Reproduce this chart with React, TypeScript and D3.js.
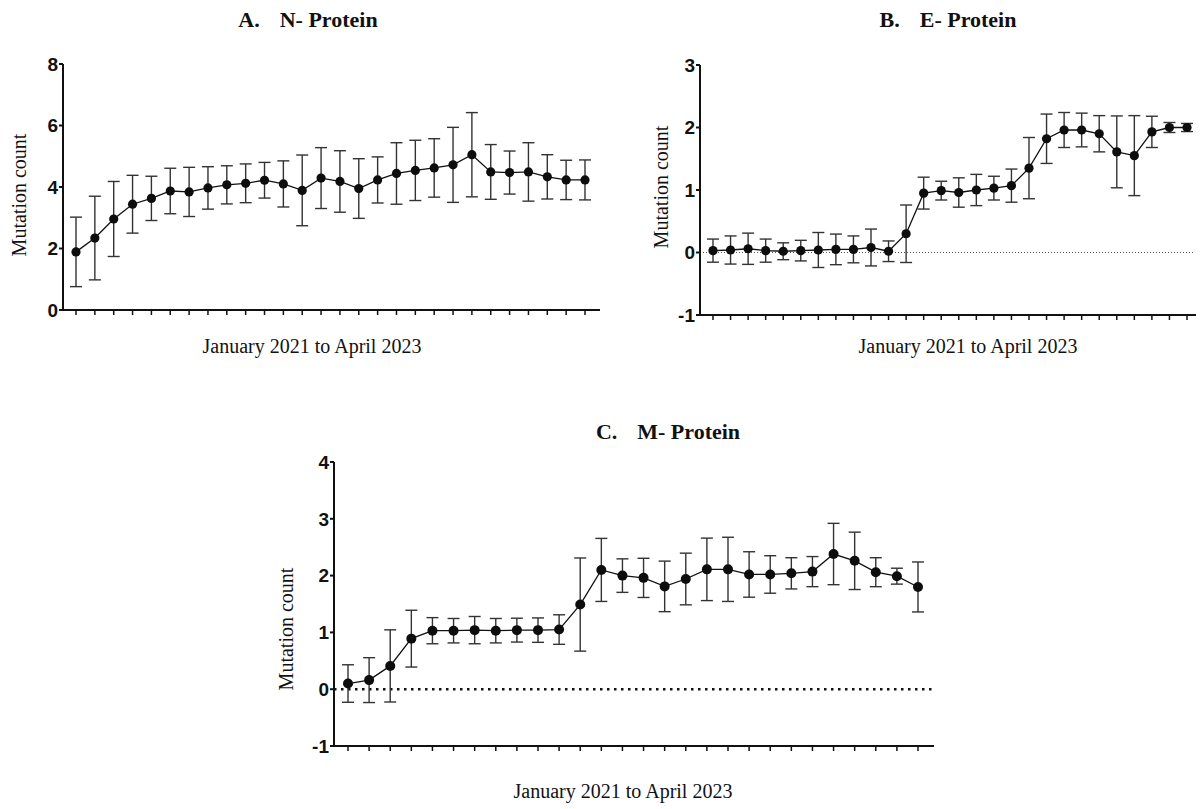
import React from 'react';
import * as d3 from 'd3';

// Jan 2021 .. Apr 2023, one point per month
const months = [
  'Jan 2021', 'Feb 2021', 'Mar 2021', 'Apr 2021', 'May 2021', 'Jun 2021', 'Jul 2021',
  'Aug 2021', 'Sep 2021', 'Oct 2021', 'Nov 2021', 'Dec 2021', 'Jan 2022', 'Feb 2022',
  'Mar 2022', 'Apr 2022', 'May 2022', 'Jun 2022', 'Jul 2022', 'Aug 2022', 'Sep 2022',
  'Oct 2022', 'Nov 2022', 'Dec 2022', 'Jan 2023', 'Feb 2023', 'Mar 2023', 'Apr 2023'
];

const nMean = [1.89, 2.34, 2.96, 3.44, 3.63, 3.87, 3.84, 3.97, 4.07, 4.12, 4.22, 4.10, 3.89, 4.29,
  4.18, 3.95, 4.23, 4.44, 4.54, 4.62, 4.72, 5.05, 4.49, 4.47, 4.49, 4.33, 4.23, 4.23];
const nSd = [1.13, 1.36, 1.22, 0.94, 0.72, 0.74, 0.80, 0.69, 0.62, 0.63, 0.58, 0.75, 1.15, 0.99,
  1.00, 0.97, 0.75, 1.00, 0.98, 0.95, 1.22, 1.37, 0.89, 0.70, 0.95, 0.72, 0.64, 0.65];

const eMean = [0.03, 0.04, 0.06, 0.03, 0.02, 0.03, 0.04, 0.05, 0.05, 0.08, 0.02, 0.30, 0.95, 0.99,
  0.96, 1.00, 1.03, 1.07, 1.35, 1.82, 1.96, 1.96, 1.90, 1.61, 1.55, 1.93, 2.00, 2.00];
const eSd = [0.185, 0.225, 0.25, 0.185, 0.135, 0.165, 0.28, 0.245, 0.215, 0.295, 0.165, 0.46, 0.255, 0.15,
  0.235, 0.25, 0.19, 0.265, 0.49, 0.395, 0.28, 0.27, 0.29, 0.575, 0.64, 0.25, 0.08, 0.065];

const mMean = [0.10, 0.16, 0.41, 0.89, 1.03, 1.03, 1.04, 1.03, 1.04, 1.04, 1.05, 1.49, 2.10, 2.00,
  1.96, 1.81, 1.94, 2.11, 2.11, 2.02, 2.02, 2.04, 2.07, 2.38, 2.26, 2.06, 1.99, 1.80];
const mSd = [0.33, 0.395, 0.635, 0.50, 0.23, 0.215, 0.24, 0.215, 0.21, 0.215, 0.26, 0.82, 0.555, 0.295,
  0.345, 0.445, 0.455, 0.55, 0.565, 0.40, 0.33, 0.275, 0.265, 0.54, 0.505, 0.255, 0.14, 0.44];

const nTicks = [0, 2, 4, 6, 8];
const eTicks = [-1, 0, 1, 2, 3];
const mTicks = [-1, 0, 1, 2, 3, 4];

const SERIF = '"Liberation Serif", "Times New Roman", serif';
const SANS = '"Liberation Sans", Arial, sans-serif';

interface PanelProps {
  letter: string;
  name: string;
  mean: number[];
  sd: number[];
  ticks: number[];
  axisX: number;
  axisEnd: number;
  xFirst: number;
  xLast: number;
  yTop: number;
  yBottom: number;
  titleX: number;
  titleY: number;
  xLabelX: number;
  xLabelY: number;
  yLabelX: number;
  yLabelY: number;
  zeroLine?: 'thin' | 'bold';
  r: number;
}

const Panel: React.FC<PanelProps> = (p) => {
  const x = d3.scalePoint<string>().domain(months).range([p.xFirst, p.xLast]);
  const y = d3.scaleLinear()
    .domain([p.ticks[0], p.ticks[p.ticks.length - 1]])
    .range([p.yBottom, p.yTop]);

  const pts = months.map((m, i) => ({ m, v: p.mean[i], sd: p.sd[i] }));
  const line = d3.line<typeof pts[0]>()
    .x(d => x(d.m) || 0)
    .y(d => y(d.v));

  const capW = 6;

  return (
    <g>
      {/* title */}
      <text x={p.titleX} y={p.titleY} fontFamily={SERIF} fontWeight="bold" fontSize={22}
        textAnchor="middle" fill="#111">
        <tspan>{p.letter}</tspan>
        <tspan dx={20}>{p.name}</tspan>
      </text>

      {/* zero reference line */}
      {p.zeroLine && (
        <line x1={p.axisX} x2={p.axisEnd - 2} y1={y(0)} y2={y(0)}
          stroke={p.zeroLine === 'bold' ? '#111' : '#555'}
          strokeWidth={p.zeroLine === 'bold' ? 2.5 : 1}
          strokeDasharray={p.zeroLine === 'bold' ? '2.5 4.5' : '1 2'} />
      )}

      {/* y axis */}
      <line x1={p.axisX} x2={p.axisX} y1={p.yTop} y2={p.yBottom + 1} stroke="#111" strokeWidth={2} />
      {p.ticks.map(t => (
        <g key={t}>
          <line x1={p.axisX - 4} x2={p.axisX} y1={y(t)} y2={y(t)} stroke="#111" strokeWidth={2} />
          <text x={p.axisX - 5} y={y(t)} dy="0.36em" textAnchor="end" fontFamily={SANS}
            fontWeight="bold" fontSize={19} fill="#111">{t}</text>
        </g>
      ))}

      {/* x axis */}
      <line x1={p.axisX - 1} x2={p.axisEnd} y1={p.yBottom} y2={p.yBottom} stroke="#111" strokeWidth={2} />
      {months.map(m => (
        <line key={m} x1={x(m)} x2={x(m)} y1={p.yBottom} y2={p.yBottom + 5} stroke="#111" strokeWidth={1.5} />
      ))}

      {/* axis labels */}
      <text x={p.xLabelX} y={p.xLabelY} textAnchor="middle" fontFamily={SERIF} fontSize={20} fill="#111">
        January 2021 to April 2023
      </text>
      <text transform={`translate(${p.yLabelX},${p.yLabelY}) rotate(-90)`} textAnchor="middle"
        dy="0.35em" fontFamily={SERIF} fontSize={20} fill="#111">
        Mutation count
      </text>

      {/* error bars */}
      {pts.map(d => {
        const cx = x(d.m) || 0;
        return (
          <g key={d.m} stroke="#333" strokeWidth={1.4}>
            <line x1={cx} x2={cx} y1={y(d.v + d.sd)} y2={y(d.v - d.sd)} />
            <line x1={cx - capW} x2={cx + capW} y1={y(d.v + d.sd)} y2={y(d.v + d.sd)} />
            <line x1={cx - capW} x2={cx + capW} y1={y(d.v - d.sd)} y2={y(d.v - d.sd)} />
          </g>
        );
      })}

      {/* mean line and points */}
      <path d={line(pts) || ''} fill="none" stroke="#111" strokeWidth={1.3} />
      {pts.map(d => (
        <circle key={d.m} cx={x(d.m)} cy={y(d.v)} r={p.r} fill="#0d0d0d" />
      ))}
    </g>
  );
};

export default function App() {
  return (
    <svg width={1203} height={809} style={{ position: 'absolute', left: 0, top: 0, background: '#fff' }}>
      <rect width={1203} height={809} fill="#fff" />
      <Panel letter="A." name="N- Protein" mean={nMean} sd={nSd} ticks={nTicks}
        axisX={63} axisEnd={600} xFirst={76} xLast={585} yTop={64} yBottom={310}
        titleX={308} titleY={27} xLabelX={312} xLabelY={353} yLabelX={19} yLabelY={195} r={4.6} />
      <Panel letter="B." name="E- Protein" mean={eMean} sd={eSd} ticks={eTicks}
        axisX={700} axisEnd={1196} xFirst={713} xLast={1187} yTop={65} yBottom={315}
        titleX={948} titleY={27} xLabelX={968} xLabelY={353} yLabelX={661} yLabelY={187}
        zeroLine="thin" r={4.6} />
      <Panel letter="C." name="M- Protein" mean={mMean} sd={mSd} ticks={mTicks}
        axisX={334} axisEnd={934} xFirst={348} xLast={918} yTop={462} yBottom={746}
        titleX={668} titleY={439} xLabelX={623} xLabelY={798} yLabelX={286} yLabelY={629}
        zeroLine="bold" r={5} />
    </svg>
  );
}
